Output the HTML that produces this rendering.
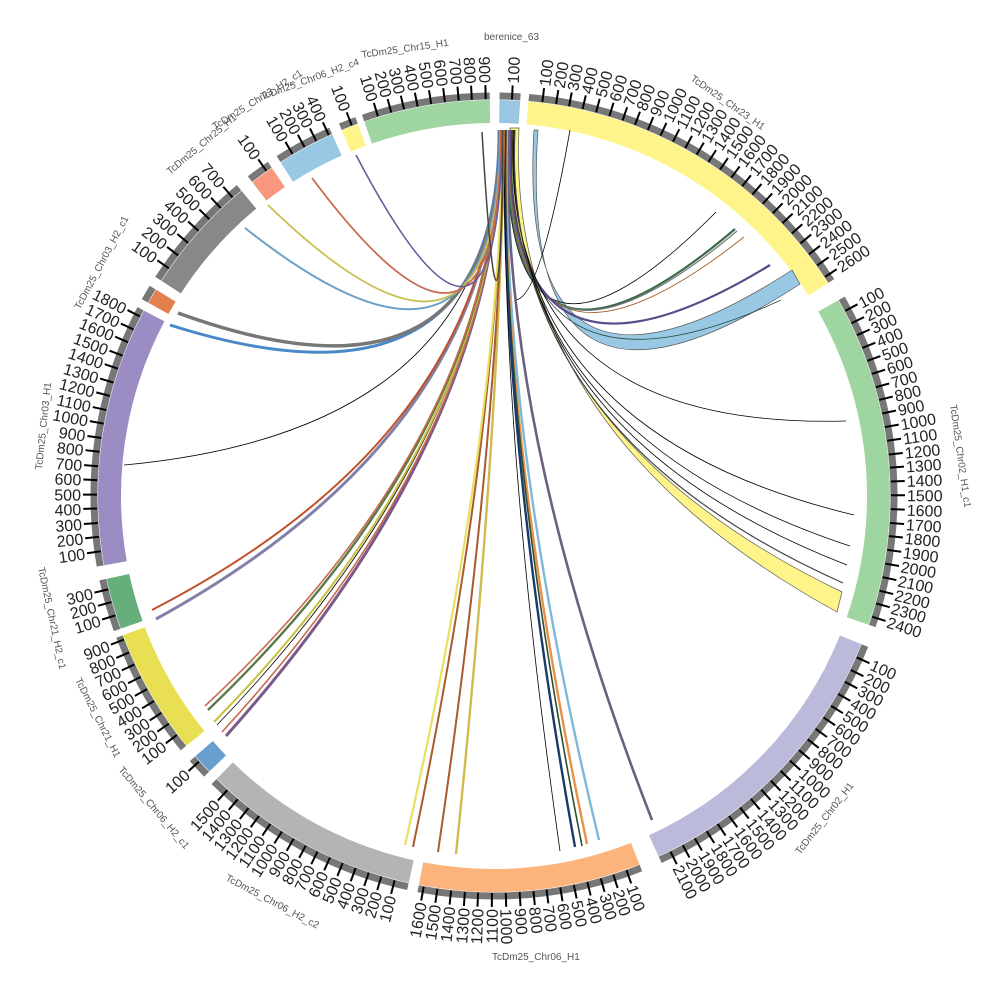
<!DOCTYPE html>
<html><head><meta charset="utf-8"><style>
html,body{margin:0;padding:0;background:#fff;}
svg{display:block;font-family:"Liberation Sans",sans-serif;}
.t text{font-size:16px;fill:#222;}
.t path{stroke:#000;stroke-width:2;}
.nm{font-size:10px;fill:#555;}
</style></head><body>
<svg width="1000" height="1000" viewBox="0 0 1000 1000">
<g transform="translate(494,496) rotate(-90)" fill="none">
<g stroke="#777" stroke-width="7">
<circle r="400" pathLength="360" stroke-dasharray="3 400" stroke-dashoffset="-0.8"/>
<circle r="400" pathLength="360" stroke-dasharray="52.5 400" stroke-dashoffset="-5"/>
<circle r="400" pathLength="360" stroke-dasharray="48.6 400" stroke-dashoffset="-60.4"/>
<circle r="400" pathLength="360" stroke-dasharray="43.5 400" stroke-dashoffset="-112"/>
<circle r="400" pathLength="360" stroke-dasharray="32.5 400" stroke-dashoffset="-158.5"/>
<circle r="400" pathLength="360" stroke-dasharray="32 400" stroke-dashoffset="-192.5"/>
<circle r="400" pathLength="360" stroke-dasharray="3 400" stroke-dashoffset="-226"/>
<circle r="400" pathLength="360" stroke-dasharray="18.5 400" stroke-dashoffset="-231"/>
<circle r="400" pathLength="360" stroke-dasharray="7.5 400" stroke-dashoffset="-250.5"/>
<circle r="400" pathLength="360" stroke-dasharray="38 400" stroke-dashoffset="-260"/>
<circle r="400" pathLength="360" stroke-dasharray="2.2 400" stroke-dashoffset="-299.3"/>
<circle r="400" pathLength="360" stroke-dasharray="17.5 400" stroke-dashoffset="-303"/>
<circle r="400" pathLength="360" stroke-dasharray="3.5 400" stroke-dashoffset="-322.5"/>
<circle r="400" pathLength="360" stroke-dasharray="8.5 400" stroke-dashoffset="-327.5"/>
<circle r="400" pathLength="360" stroke-dasharray="2.5 400" stroke-dashoffset="-337.5"/>
<circle r="400" pathLength="360" stroke-dasharray="18.5 400" stroke-dashoffset="-341"/>
</g>
<g stroke-width="23">
<circle r="384.5" pathLength="360" stroke="#9ac6e2" stroke-dasharray="3 400" stroke-dashoffset="-0.8"/>
<circle r="384.5" pathLength="360" stroke="#fff48a" stroke-dasharray="52.5 400" stroke-dashoffset="-5"/>
<circle r="384.5" pathLength="360" stroke="#9fd5a0" stroke-dasharray="48.6 400" stroke-dashoffset="-60.4"/>
<circle r="384.5" pathLength="360" stroke="#bcbadb" stroke-dasharray="43.5 400" stroke-dashoffset="-112"/>
<circle r="384.5" pathLength="360" stroke="#fdb47c" stroke-dasharray="32.5 400" stroke-dashoffset="-158.5"/>
<circle r="384.5" pathLength="360" stroke="#b4b4b4" stroke-dasharray="32 400" stroke-dashoffset="-192.5"/>
<circle r="384.5" pathLength="360" stroke="#689fcf" stroke-dasharray="3 400" stroke-dashoffset="-226"/>
<circle r="384.5" pathLength="360" stroke="#e8df52" stroke-dasharray="18.5 400" stroke-dashoffset="-231"/>
<circle r="384.5" pathLength="360" stroke="#66ae7a" stroke-dasharray="7.5 400" stroke-dashoffset="-250.5"/>
<circle r="384.5" pathLength="360" stroke="#9b8cc4" stroke-dasharray="38 400" stroke-dashoffset="-260"/>
<circle r="384.5" pathLength="360" stroke="#e3814e" stroke-dasharray="2.2 400" stroke-dashoffset="-299.3"/>
<circle r="384.5" pathLength="360" stroke="#888888" stroke-dasharray="17.5 400" stroke-dashoffset="-303"/>
<circle r="384.5" pathLength="360" stroke="#f9977e" stroke-dasharray="3.5 400" stroke-dashoffset="-322.5"/>
<circle r="384.5" pathLength="360" stroke="#99c8e4" stroke-dasharray="8.5 400" stroke-dashoffset="-327.5"/>
<circle r="384.5" pathLength="360" stroke="#fff48a" stroke-dasharray="2.5 400" stroke-dashoffset="-337.5"/>
<circle r="384.5" pathLength="360" stroke="#9fd5a0" stroke-dasharray="18.5 400" stroke-dashoffset="-341"/>
</g>
</g>

<g class="t" transform="translate(494,496) rotate(-90)">
<g transform="rotate(2.6)"><path d="M397 0H411"/><text x="413" y="6">100</text></g>
<g transform="rotate(7)"><path d="M397 0H411"/><text x="413" y="6">100</text></g>
<g transform="rotate(9)"><path d="M397 0H411"/><text x="413" y="6">200</text></g>
<g transform="rotate(10.9)"><path d="M397 0H411"/><text x="413" y="6">300</text></g>
<g transform="rotate(12.9)"><path d="M397 0H411"/><text x="413" y="6">400</text></g>
<g transform="rotate(14.9)"><path d="M397 0H411"/><text x="413" y="6">500</text></g>
<g transform="rotate(16.9)"><path d="M397 0H411"/><text x="413" y="6">600</text></g>
<g transform="rotate(18.9)"><path d="M397 0H411"/><text x="413" y="6">700</text></g>
<g transform="rotate(20.8)"><path d="M397 0H411"/><text x="413" y="6">800</text></g>
<g transform="rotate(22.8)"><path d="M397 0H411"/><text x="413" y="6">900</text></g>
<g transform="rotate(24.8)"><path d="M397 0H411"/><text x="413" y="6">1000</text></g>
<g transform="rotate(26.8)"><path d="M397 0H411"/><text x="413" y="6">1100</text></g>
<g transform="rotate(28.8)"><path d="M397 0H411"/><text x="413" y="6">1200</text></g>
<g transform="rotate(30.7)"><path d="M397 0H411"/><text x="413" y="6">1300</text></g>
<g transform="rotate(32.7)"><path d="M397 0H411"/><text x="413" y="6">1400</text></g>
<g transform="rotate(34.7)"><path d="M397 0H411"/><text x="413" y="6">1500</text></g>
<g transform="rotate(36.7)"><path d="M397 0H411"/><text x="413" y="6">1600</text></g>
<g transform="rotate(38.7)"><path d="M397 0H411"/><text x="413" y="6">1700</text></g>
<g transform="rotate(40.6)"><path d="M397 0H411"/><text x="413" y="6">1800</text></g>
<g transform="rotate(42.6)"><path d="M397 0H411"/><text x="413" y="6">1900</text></g>
<g transform="rotate(44.6)"><path d="M397 0H411"/><text x="413" y="6">2000</text></g>
<g transform="rotate(46.6)"><path d="M397 0H411"/><text x="413" y="6">2100</text></g>
<g transform="rotate(48.6)"><path d="M397 0H411"/><text x="413" y="6">2200</text></g>
<g transform="rotate(50.5)"><path d="M397 0H411"/><text x="413" y="6">2300</text></g>
<g transform="rotate(52.5)"><path d="M397 0H411"/><text x="413" y="6">2400</text></g>
<g transform="rotate(54.5)"><path d="M397 0H411"/><text x="413" y="6">2500</text></g>
<g transform="rotate(56.5)"><path d="M397 0H411"/><text x="413" y="6">2600</text></g>
<g transform="rotate(62.2)"><path d="M397 0H411"/><text x="413" y="6">100</text></g>
<g transform="rotate(64.2)"><path d="M397 0H411"/><text x="413" y="6">200</text></g>
<g transform="rotate(66.1)"><path d="M397 0H411"/><text x="413" y="6">300</text></g>
<g transform="rotate(68.1)"><path d="M397 0H411"/><text x="413" y="6">400</text></g>
<g transform="rotate(70.1)"><path d="M397 0H411"/><text x="413" y="6">500</text></g>
<g transform="rotate(72.1)"><path d="M397 0H411"/><text x="413" y="6">600</text></g>
<g transform="rotate(74.1)"><path d="M397 0H411"/><text x="413" y="6">700</text></g>
<g transform="rotate(76)"><path d="M397 0H411"/><text x="413" y="6">800</text></g>
<g transform="rotate(78)"><path d="M397 0H411"/><text x="413" y="6">900</text></g>
<g transform="rotate(80)"><path d="M397 0H411"/><text x="413" y="6">1000</text></g>
<g transform="rotate(82)"><path d="M397 0H411"/><text x="413" y="6">1100</text></g>
<g transform="rotate(84)"><path d="M397 0H411"/><text x="413" y="6">1200</text></g>
<g transform="rotate(85.9)"><path d="M397 0H411"/><text x="413" y="6">1300</text></g>
<g transform="rotate(87.9)"><path d="M397 0H411"/><text x="413" y="6">1400</text></g>
<g transform="rotate(89.9)"><path d="M397 0H411"/><text x="413" y="6">1500</text></g>
<g transform="rotate(91.9)"><path d="M397 0H411"/><text x="413" y="6">1600</text></g>
<g transform="rotate(93.9)"><path d="M397 0H411"/><text x="413" y="6">1700</text></g>
<g transform="rotate(95.8)"><path d="M397 0H411"/><text x="413" y="6">1800</text></g>
<g transform="rotate(97.8)"><path d="M397 0H411"/><text x="413" y="6">1900</text></g>
<g transform="rotate(99.8)"><path d="M397 0H411"/><text x="413" y="6">2000</text></g>
<g transform="rotate(101.8)"><path d="M397 0H411"/><text x="413" y="6">2100</text></g>
<g transform="rotate(103.8)"><path d="M397 0H411"/><text x="413" y="6">2200</text></g>
<g transform="rotate(105.7)"><path d="M397 0H411"/><text x="413" y="6">2300</text></g>
<g transform="rotate(107.7)"><path d="M397 0H411"/><text x="413" y="6">2400</text></g>
<g transform="rotate(114)"><path d="M397 0H411"/><text x="413" y="6">100</text></g>
<g transform="rotate(116)"><path d="M397 0H411"/><text x="413" y="6">200</text></g>
<g transform="rotate(117.9)"><path d="M397 0H411"/><text x="413" y="6">300</text></g>
<g transform="rotate(119.9)"><path d="M397 0H411"/><text x="413" y="6">400</text></g>
<g transform="rotate(121.9)"><path d="M397 0H411"/><text x="413" y="6">500</text></g>
<g transform="rotate(123.9)"><path d="M397 0H411"/><text x="413" y="6">600</text></g>
<g transform="rotate(125.9)"><path d="M397 0H411"/><text x="413" y="6">700</text></g>
<g transform="rotate(127.8)"><path d="M397 0H411"/><text x="413" y="6">800</text></g>
<g transform="rotate(129.8)"><path d="M397 0H411"/><text x="413" y="6">900</text></g>
<g transform="rotate(131.8)"><path d="M397 0H411"/><text x="413" y="6">1000</text></g>
<g transform="rotate(133.8)"><path d="M397 0H411"/><text x="413" y="6">1100</text></g>
<g transform="rotate(135.8)"><path d="M397 0H411"/><text x="413" y="6">1200</text></g>
<g transform="rotate(137.7)"><path d="M397 0H411"/><text x="413" y="6">1300</text></g>
<g transform="rotate(139.7)"><path d="M397 0H411"/><text x="413" y="6">1400</text></g>
<g transform="rotate(141.7)"><path d="M397 0H411"/><text x="413" y="6">1500</text></g>
<g transform="rotate(143.7)"><path d="M397 0H411"/><text x="413" y="6">1600</text></g>
<g transform="rotate(145.7)"><path d="M397 0H411"/><text x="413" y="6">1700</text></g>
<g transform="rotate(147.6)"><path d="M397 0H411"/><text x="413" y="6">1800</text></g>
<g transform="rotate(149.6)"><path d="M397 0H411"/><text x="413" y="6">1900</text></g>
<g transform="rotate(151.6)"><path d="M397 0H411"/><text x="413" y="6">2000</text></g>
<g transform="rotate(153.6)"><path d="M397 0H411"/><text x="413" y="6">2100</text></g>
<g transform="rotate(160.5)"><path d="M397 0H411"/><text x="413" y="6">100</text></g>
<g transform="rotate(162.5)"><path d="M397 0H411"/><text x="413" y="6">200</text></g>
<g transform="rotate(164.4)"><path d="M397 0H411"/><text x="413" y="6">300</text></g>
<g transform="rotate(166.4)"><path d="M397 0H411"/><text x="413" y="6">400</text></g>
<g transform="rotate(168.4)"><path d="M397 0H411"/><text x="413" y="6">500</text></g>
<g transform="rotate(170.4)"><path d="M397 0H411"/><text x="413" y="6">600</text></g>
<g transform="rotate(172.4)"><path d="M397 0H411"/><text x="413" y="6">700</text></g>
<g transform="rotate(174.3)"><path d="M397 0H411"/><text x="413" y="6">800</text></g>
<g transform="rotate(176.3)"><path d="M397 0H411"/><text x="413" y="6">900</text></g>
<g transform="rotate(178.3)"><path d="M397 0H411"/><text x="413" y="6">1000</text></g>
</g>

<g class="t" transform="translate(494,496) rotate(90)" text-anchor="end">
<g transform="rotate(180.3)"><path d="M-397 0H-411"/><text x="-413" y="6">1100</text></g>
<g transform="rotate(182.3)"><path d="M-397 0H-411"/><text x="-413" y="6">1200</text></g>
<g transform="rotate(184.2)"><path d="M-397 0H-411"/><text x="-413" y="6">1300</text></g>
<g transform="rotate(186.2)"><path d="M-397 0H-411"/><text x="-413" y="6">1400</text></g>
<g transform="rotate(188.2)"><path d="M-397 0H-411"/><text x="-413" y="6">1500</text></g>
<g transform="rotate(190.2)"><path d="M-397 0H-411"/><text x="-413" y="6">1600</text></g>
<g transform="rotate(194.5)"><path d="M-397 0H-411"/><text x="-413" y="6">100</text></g>
<g transform="rotate(196.5)"><path d="M-397 0H-411"/><text x="-413" y="6">200</text></g>
<g transform="rotate(198.4)"><path d="M-397 0H-411"/><text x="-413" y="6">300</text></g>
<g transform="rotate(200.4)"><path d="M-397 0H-411"/><text x="-413" y="6">400</text></g>
<g transform="rotate(202.4)"><path d="M-397 0H-411"/><text x="-413" y="6">500</text></g>
<g transform="rotate(204.4)"><path d="M-397 0H-411"/><text x="-413" y="6">600</text></g>
<g transform="rotate(206.4)"><path d="M-397 0H-411"/><text x="-413" y="6">700</text></g>
<g transform="rotate(208.3)"><path d="M-397 0H-411"/><text x="-413" y="6">800</text></g>
<g transform="rotate(210.3)"><path d="M-397 0H-411"/><text x="-413" y="6">900</text></g>
<g transform="rotate(212.3)"><path d="M-397 0H-411"/><text x="-413" y="6">1000</text></g>
<g transform="rotate(214.3)"><path d="M-397 0H-411"/><text x="-413" y="6">1100</text></g>
<g transform="rotate(216.3)"><path d="M-397 0H-411"/><text x="-413" y="6">1200</text></g>
<g transform="rotate(218.2)"><path d="M-397 0H-411"/><text x="-413" y="6">1300</text></g>
<g transform="rotate(220.2)"><path d="M-397 0H-411"/><text x="-413" y="6">1400</text></g>
<g transform="rotate(222.2)"><path d="M-397 0H-411"/><text x="-413" y="6">1500</text></g>
<g transform="rotate(228)"><path d="M-397 0H-411"/><text x="-413" y="6">100</text></g>
<g transform="rotate(233)"><path d="M-397 0H-411"/><text x="-413" y="6">100</text></g>
<g transform="rotate(235)"><path d="M-397 0H-411"/><text x="-413" y="6">200</text></g>
<g transform="rotate(236.9)"><path d="M-397 0H-411"/><text x="-413" y="6">300</text></g>
<g transform="rotate(238.9)"><path d="M-397 0H-411"/><text x="-413" y="6">400</text></g>
<g transform="rotate(240.9)"><path d="M-397 0H-411"/><text x="-413" y="6">500</text></g>
<g transform="rotate(242.9)"><path d="M-397 0H-411"/><text x="-413" y="6">600</text></g>
<g transform="rotate(244.9)"><path d="M-397 0H-411"/><text x="-413" y="6">700</text></g>
<g transform="rotate(246.8)"><path d="M-397 0H-411"/><text x="-413" y="6">800</text></g>
<g transform="rotate(248.8)"><path d="M-397 0H-411"/><text x="-413" y="6">900</text></g>
<g transform="rotate(252.5)"><path d="M-397 0H-411"/><text x="-413" y="6">100</text></g>
<g transform="rotate(254.5)"><path d="M-397 0H-411"/><text x="-413" y="6">200</text></g>
<g transform="rotate(256.4)"><path d="M-397 0H-411"/><text x="-413" y="6">300</text></g>
<g transform="rotate(262)"><path d="M-397 0H-411"/><text x="-413" y="6">100</text></g>
<g transform="rotate(264.1)"><path d="M-397 0H-411"/><text x="-413" y="6">200</text></g>
<g transform="rotate(266.1)"><path d="M-397 0H-411"/><text x="-413" y="6">300</text></g>
<g transform="rotate(268.2)"><path d="M-397 0H-411"/><text x="-413" y="6">400</text></g>
<g transform="rotate(270.2)"><path d="M-397 0H-411"/><text x="-413" y="6">500</text></g>
<g transform="rotate(272.3)"><path d="M-397 0H-411"/><text x="-413" y="6">600</text></g>
<g transform="rotate(274.3)"><path d="M-397 0H-411"/><text x="-413" y="6">700</text></g>
<g transform="rotate(276.4)"><path d="M-397 0H-411"/><text x="-413" y="6">800</text></g>
<g transform="rotate(278.4)"><path d="M-397 0H-411"/><text x="-413" y="6">900</text></g>
<g transform="rotate(280.5)"><path d="M-397 0H-411"/><text x="-413" y="6">1000</text></g>
<g transform="rotate(282.5)"><path d="M-397 0H-411"/><text x="-413" y="6">1100</text></g>
<g transform="rotate(284.6)"><path d="M-397 0H-411"/><text x="-413" y="6">1200</text></g>
<g transform="rotate(286.6)"><path d="M-397 0H-411"/><text x="-413" y="6">1300</text></g>
<g transform="rotate(288.7)"><path d="M-397 0H-411"/><text x="-413" y="6">1400</text></g>
<g transform="rotate(290.7)"><path d="M-397 0H-411"/><text x="-413" y="6">1500</text></g>
<g transform="rotate(292.8)"><path d="M-397 0H-411"/><text x="-413" y="6">1600</text></g>
<g transform="rotate(294.8)"><path d="M-397 0H-411"/><text x="-413" y="6">1700</text></g>
<g transform="rotate(296.9)"><path d="M-397 0H-411"/><text x="-413" y="6">1800</text></g>
<g transform="rotate(305)"><path d="M-397 0H-411"/><text x="-413" y="6">100</text></g>
<g transform="rotate(307.3)"><path d="M-397 0H-411"/><text x="-413" y="6">200</text></g>
<g transform="rotate(309.6)"><path d="M-397 0H-411"/><text x="-413" y="6">300</text></g>
<g transform="rotate(311.9)"><path d="M-397 0H-411"/><text x="-413" y="6">400</text></g>
<g transform="rotate(314.2)"><path d="M-397 0H-411"/><text x="-413" y="6">500</text></g>
<g transform="rotate(316.5)"><path d="M-397 0H-411"/><text x="-413" y="6">600</text></g>
<g transform="rotate(318.8)"><path d="M-397 0H-411"/><text x="-413" y="6">700</text></g>
<g transform="rotate(325)"><path d="M-397 0H-411"/><text x="-413" y="6">100</text></g>
<g transform="rotate(329.5)"><path d="M-397 0H-411"/><text x="-413" y="6">100</text></g>
<g transform="rotate(331.5)"><path d="M-397 0H-411"/><text x="-413" y="6">200</text></g>
<g transform="rotate(333.4)"><path d="M-397 0H-411"/><text x="-413" y="6">300</text></g>
<g transform="rotate(335.4)"><path d="M-397 0H-411"/><text x="-413" y="6">400</text></g>
<g transform="rotate(339)"><path d="M-397 0H-411"/><text x="-413" y="6">100</text></g>
<g transform="rotate(343)"><path d="M-397 0H-411"/><text x="-413" y="6">100</text></g>
<g transform="rotate(345)"><path d="M-397 0H-411"/><text x="-413" y="6">200</text></g>
<g transform="rotate(346.9)"><path d="M-397 0H-411"/><text x="-413" y="6">300</text></g>
<g transform="rotate(348.9)"><path d="M-397 0H-411"/><text x="-413" y="6">400</text></g>
<g transform="rotate(350.9)"><path d="M-397 0H-411"/><text x="-413" y="6">500</text></g>
<g transform="rotate(352.9)"><path d="M-397 0H-411"/><text x="-413" y="6">600</text></g>
<g transform="rotate(354.9)"><path d="M-397 0H-411"/><text x="-413" y="6">700</text></g>
<g transform="rotate(356.8)"><path d="M-397 0H-411"/><text x="-413" y="6">800</text></g>
<g transform="rotate(358.8)"><path d="M-397 0H-411"/><text x="-413" y="6">900</text></g>
</g>

<!-- links -->
<g fill="none">
<path d="M519 128 Q505 430 837 612 L842 592 Q505 430 510 128 Z" style="fill:#fff48a" stroke="#555" stroke-width="0.7"/>
<path d="M538 130 Q515 470 800 284 L792 270 Q515 450 534 130 Z" style="fill:#99c8e4" stroke="#555" stroke-width="0.7"/>
<path d="M507 130 Q500 430 716 212" stroke="#000" stroke-width="0.8"/>
<path d="M508 130 Q500 430 735 229" stroke="#3a6a4a" stroke-width="2.2"/>
<path d="M509 130 Q500 430 737 231" stroke="#777" stroke-width="1.2"/>
<path d="M510 130 Q500 430 744 237" stroke="#a0602a" stroke-width="0.9"/>
<path d="M511 130 Q500 430 770 265" stroke="#5a4a8a" stroke-width="2.2"/>
<path d="M512 130 Q500 430 781 300" stroke="#2a4a3a" stroke-width="0.8"/>
<path d="M513 130 Q500 430 846 421" stroke="#000" stroke-width="0.8"/>
<path d="M514 130 Q500 430 854 515" stroke="#000" stroke-width="0.8"/>
<path d="M514 130 Q500 430 850 546" stroke="#000" stroke-width="0.8"/>
<path d="M515 130 Q500 430 847 565" stroke="#000" stroke-width="0.8"/>
<path d="M515 130 Q500 430 843 583" stroke="#444" stroke-width="1.2"/>
<path d="M570 130 Q540 300 515 300" stroke="#000" stroke-width="0.8"/>
<path d="M508 130 Q500 430 652 820" stroke="#6a6080" stroke-width="2.6"/>
<path d="M507 130 Q500 430 599 840" stroke="#80b8d8" stroke-width="2.4"/>
<path d="M506 130 Q500 430 587 844" stroke="#e8904a" stroke-width="2.4"/>
<path d="M506 130 Q500 430 582 846" stroke="#2a5030" stroke-width="1.6"/>
<path d="M505 130 Q500 430 575 847" stroke="#1a3a6a" stroke-width="2.4"/>
<path d="M505 130 Q500 430 560 851" stroke="#000" stroke-width="0.8"/>
<path d="M504 130 Q500 430 456 854" stroke="#d0ba50" stroke-width="2.4"/>
<path d="M504 130 Q500 430 438 852" stroke="#a85a30" stroke-width="2"/>
<path d="M503 130 Q500 430 413 847" stroke="#a85a30" stroke-width="2"/>
<path d="M503 130 Q500 430 405 845" stroke="#e8e060" stroke-width="2.2"/>
<path d="M502 130 Q500 430 226 736" stroke="#7a5a8a" stroke-width="3"/>
<path d="M502 130 Q500 430 222 732" stroke="#c86a50" stroke-width="1.6"/>
<path d="M501 130 Q500 430 217 725" stroke="#000" stroke-width="0.8"/>
<path d="M501 130 Q500 430 214 722" stroke="#c8c040" stroke-width="2"/>
<path d="M500 130 Q500 430 208 710" stroke="#5a7a4a" stroke-width="2.4"/>
<path d="M500 130 Q500 430 205 706" stroke="#c86a50" stroke-width="1.6"/>
<path d="M500 130 Q500 430 156 619" stroke="#8080a8" stroke-width="3"/>
<path d="M499 130 Q500 430 152 610" stroke="#c0502a" stroke-width="2"/>
<path d="M499 130 Q500 430 124 465" stroke="#000" stroke-width="0.8"/>
<path d="M499 130 Q500 430 170 325" stroke="#4a88c8" stroke-width="3"/>
<path d="M500 130 Q500 430 178 313" stroke="#777" stroke-width="3.5"/>
<path d="M500 130 Q500 430 245 228" stroke="#6aa0c8" stroke-width="2"/>
<path d="M501 130 Q500 430 268 205" stroke="#c8c050" stroke-width="1.8"/>
<path d="M501 130 Q500 430 312 178" stroke="#c86a50" stroke-width="1.8"/>
<path d="M502 130 Q500 430 356 155" stroke="#6a5a9a" stroke-width="1.6"/>
<path d="M503 130 Q500 430 482 132" stroke="#444" stroke-width="1.5"/>
</g>

<g class="nm">
<text x="484" y="40">berenice_63</text>
<text x="362" y="58" transform="rotate(-8 362 58)">TcDm25_Chr15_H1</text>
<text x="262" y="100" transform="rotate(-20 262 100)">TcDm25_Chr06_H2_c4</text>
<text x="215" y="130" transform="rotate(-32 215 130)">TcDm25_Chr23_H2_c1</text>
<text x="170" y="175" transform="rotate(-40 170 175)">TcDm25_Chr25_H1</text>
<text x="80" y="310" transform="rotate(-62 80 310)">TcDm25_Chr03_H2_c1</text>
<text x="42" y="470" transform="rotate(-84 42 470)">TcDm25_Chr03_H1</text>
<text x="38" y="568" transform="rotate(78 38 568)">TcDm25_Chr21_H2_c1</text>
<text x="75" y="680" transform="rotate(63 75 680)">TcDm25_Chr21_H1</text>
<text x="118" y="770" transform="rotate(50 118 770)">TcDm25_Chr06_H2_c1</text>
<text x="225" y="880" transform="rotate(28 225 880)">TcDm25_Chr06_H2_c2</text>
<text x="492" y="960">TcDm25_Chr06_H1</text>
<text x="800" y="855" transform="rotate(-52 800 855)">TcDm25_Chr02_H1</text>
<text x="950" y="405" transform="rotate(82 950 405)">TcDm25_Chr02_H1_c1</text>
<text x="690" y="80" transform="rotate(35 690 80)">TcDm25_Chr23_H1</text>
</g>
</svg>
</body></html>
